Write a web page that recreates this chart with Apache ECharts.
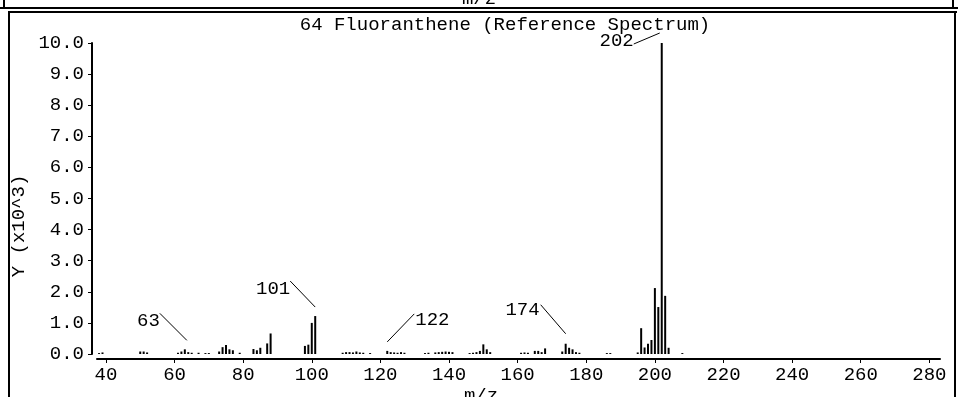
<!DOCTYPE html>
<html><head><meta charset="utf-8">
<script src="https://cdn.jsdelivr.net/npm/echarts@6/dist/echarts.min.js"></script>
<style>html,body{margin:0;padding:0;background:#fff}#c{width:958px;height:397px}</style>
</head><body><div id="c"></div>
<script>
// ---- data ----
const mzValues = [38,39,50,51,52,61,62,63,64,65,67,69,70,73,74,75,76,77,79,83,84,85,87,88,98,99,100,101,
  109,110,111,112,113,114,115,117,122,123,124,125,126,127,133,134,136,137,138,139,140,141,
  146,147,148,149,150,151,152,161,162,163,165,166,167,168,173,174,175,176,177,178,186,187,
  195,196,197,198,199,200,201,202,203,204,208];
const intensities = [0.03,0.05,0.08,0.08,0.05,0.04,0.08,0.15,0.06,0.04,0.04,0.03,0.03,0.08,0.22,0.29,0.15,0.12,0.04,0.16,0.12,0.2,0.34,0.66,0.26,0.3,1.0,1.22,
  0.04,0.06,0.06,0.05,0.08,0.05,0.04,0.03,0.1,0.06,0.05,0.04,0.06,0.04,0.03,0.04,0.05,0.06,0.07,0.08,0.07,0.06,
  0.03,0.04,0.06,0.1,0.31,0.15,0.06,0.04,0.05,0.04,0.1,0.1,0.06,0.18,0.08,0.33,0.2,0.15,0.06,0.04,0.03,0.03,
  0.05,0.83,0.21,0.33,0.45,2.12,1.51,10.0,1.87,0.2,0.03];
const xTickValues = [40,60,80,100,120,140,160,180,200,220,240,260,280];
const yTickValues = [0,1,2,3,4,5,6,7,8,9,10];
const labelledPeaks = [63,101,122,174,202];
const titleText = '64 Fluoranthene (Reference Spectrum)';
const yName = 'Y (x10^3)';
const xName = 'm/z';

// ---- layout (pixel offsets of annotation text / leader lines relative to peak top) ----
const annotLayout = {
  63:  {tx:-25, ty:-38, align:'right', va:'top',    sx:-25, sy:-36, ex:2,  ey:-9},
  101: {tx:-25, ty:-37, align:'right', va:'top',    sx:-25, sy:-35, ex:0,  ey:-9},
  122: {tx:28,  ty:-40, align:'left',  va:'top',    sx:27,  sy:-37, ex:0,  ey:-9},
  174: {tx:-26, ty:-43, align:'right', va:'top',    sx:-25, sy:-39, ex:0,  ey:-10},
  202: {tx:-28, ty:-2,  align:'right', va:'middle', sx:-28, sy:1,   ex:-2, ey:-10}
};
const FS = 19;
const FAM = '"Liberation Mono", "DejaVu Sans Mono", monospace';
const FONT = FS + 'px ' + FAM;

const chart = echarts.init(document.getElementById('c'), null, {renderer:'canvas'});
const barData = mzValues.map((m,i)=>[m, intensities[i]]);

function txt(text, x, y, align, va, rot){
  return {type:'text', x:x, y:y, rotation: rot||0, silent:true,
    style:{text:text, font:FONT, fill:'#000', align:align, verticalAlign:va, textAlign:align, textVerticalAlign:va}};
}
function ln(x1,y1,x2,y2,w){
  return {type:'line', silent:true, shape:{x1:x1,y1:y1,x2:x2,y2:y2}, style:{stroke:'#000', lineWidth:w||1}};
}

const frame = [
  ln(0,8,958,8,2), ln(4,0,4,8,2), ln(953,0,953,8,2),
  ln(8,12,957,12,2), ln(9,12,9,397,2), ln(955,12,955,397,2),
  txt(xName, 479, 8, 'center', 'bottom'),
  txt(titleText, 505, 15, 'center', 'top'),
  txt(yName, 19, 226, 'center', 'middle', Math.PI/2),
  txt(xName, 481, 386, 'center', 'top')
];

chart.setOption({
  animation:false,
  backgroundColor:'#fff',
  grid:{left:97, right:18, top:43, bottom:43, containLabel:false},
  xAxis:{type:'value', min:37.4, max:283.1, offset:5,
    axisLine:{show:true, onZero:false, lineStyle:{color:'#000', width:2}},
    axisTick:{show:true, length:4, customValues:xTickValues, lineStyle:{color:'#000', width:1}},
    axisLabel:{show:true, customValues:xTickValues, color:'#000', fontFamily:FAM, fontSize:FS, margin:6},
    splitLine:{show:false}},
  yAxis:{type:'value', min:0, max:10, interval:1, offset:5,
    axisLine:{show:true, onZero:false, lineStyle:{color:'#000', width:2}},
    axisTick:{show:true, length:4, lineStyle:{color:'#000', width:1}},
    axisLabel:{show:true, color:'#000', fontFamily:FAM, fontSize:FS, margin:8,
      formatter:function(v){return v.toFixed(1);}},
    splitLine:{show:false}},
  series:[{type:'bar', data:barData, barWidth:2, itemStyle:{color:'#000'}, silent:true}],
  graphic: frame
});

const annots = [];
labelledPeaks.forEach(function(m){
  const i = mzValues.indexOf(m);
  const p = chart.convertToPixel({xAxisIndex:0, yAxisIndex:0}, [m, intensities[i]]);
  const L = annotLayout[m];
  annots.push(ln(p[0]+L.sx, p[1]+L.sy, p[0]+L.ex, p[1]+L.ey, 1));
  annots.push(txt(String(m), p[0]+L.tx, p[1]+L.ty, L.align, L.va));
});
chart.setOption({graphic: frame.concat(annots)}, {replaceMerge:['graphic']});
</script>
</body></html>
